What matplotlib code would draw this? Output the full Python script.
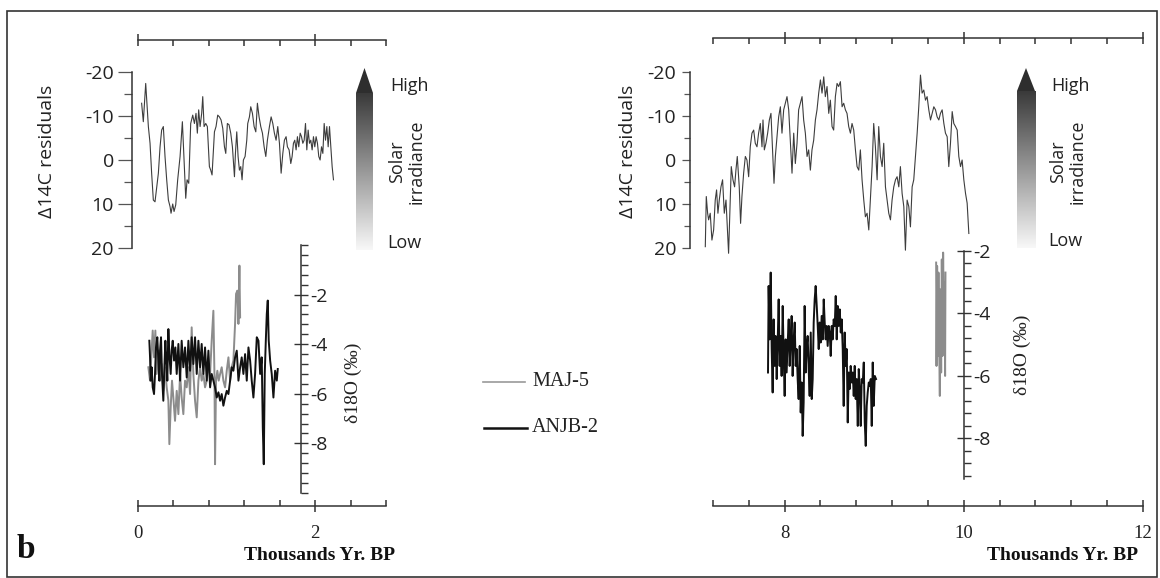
import numpy as np
import matplotlib
matplotlib.use("Agg")
import matplotlib.pyplot as plt
from matplotlib.lines import Line2D
from matplotlib.patches import Polygon, Rectangle
from matplotlib.colors import LinearSegmentedColormap

W, H = 1160, 578
PX = 0.72  # points per pixel at dpi 100
SANS = ['Open Sans', 'DejaVu Sans']
SERIF = ['Liberation Serif', 'DejaVu Serif']
INK = '#333333'

# ---- Delta14C residuals, 0-2.2 kyr BP
c14_left_age = [
    0.041, 0.060, 0.087, 0.117, 0.136, 0.154, 0.173, 0.192, 0.230, 0.249,
    0.267, 0.286, 0.305, 0.324, 0.343, 0.362, 0.373, 0.392, 0.407, 0.426,
    0.448, 0.475, 0.501, 0.520, 0.539, 0.554, 0.573, 0.595, 0.618, 0.637,
    0.655, 0.670, 0.685, 0.701, 0.719, 0.731, 0.746, 0.765, 0.783, 0.806,
    0.821, 0.836, 0.863, 0.881, 0.900, 0.919, 0.938, 0.957, 0.976, 0.991,
    1.009, 1.028, 1.047, 1.066, 1.089, 1.100, 1.115, 1.130, 1.145, 1.160,
    1.175, 1.190, 1.209, 1.228, 1.239, 1.258, 1.273, 1.292, 1.311, 1.330,
    1.348, 1.367, 1.386, 1.405, 1.424, 1.443, 1.461, 1.484, 1.503, 1.522,
    1.540, 1.559, 1.578, 1.597, 1.616, 1.635, 1.653, 1.672, 1.687, 1.706,
    1.725, 1.740, 1.755, 1.770, 1.785, 1.800, 1.815, 1.831, 1.846, 1.861,
    1.876, 1.891, 1.906, 1.921, 1.936, 1.951, 1.966, 1.981, 1.996, 2.011,
    2.026, 2.041, 2.056, 2.072, 2.087, 2.102, 2.117, 2.132, 2.147, 2.162,
    2.177, 2.192, 2.207]
c14_left_val = [
    -12.9, -8.7, -17.4, -7.6, -3.8, 3.0, 9.1, 9.5, 3.0, -3.0,
    -6.8, -7.6, -0.8, 4.5, 9.1, 10.6, 12.1, 10.0, 11.7, 10.2,
    4.5, -0.8, -8.7, 0.0, 8.7, 4.5, 5.3, -8.3, -10.2, -8.3,
    -10.6, -6.1, -11.4, -7.6, -10.6, -14.4, -7.6, -8.3, -7.6, 1.5,
    2.3, 3.4, -6.4, -7.6, -10.2, -9.8, -9.1, -7.2, -3.0, -1.5,
    -8.3, -8.0, -6.1, -3.0, 3.8, -1.5, -6.4, -0.8, 2.3, 1.5,
    4.5, 0.0, -0.8, -4.5, -8.3, -9.8, -12.1, -10.6, -7.6, -6.4,
    -12.9, -9.8, -7.6, -6.1, -3.0, -0.8, -4.5, -7.6, -9.8, -8.3,
    -6.1, -4.5, -7.6, -3.8, 3.0, -1.5, -4.5, -5.3, -3.0, -2.3,
    0.8, -0.8, -3.8, -4.5, -2.3, -5.3, -3.0, -6.1, -5.3, -3.8,
    -4.5, -8.3, -2.3, -6.8, -3.8, -4.5, -2.3, -5.3, -3.0, -5.3,
    -3.8, -0.8, 0.0, -3.0, -1.5, -8.3, -4.5, -7.6, -3.0, -7.6,
    -3.0, 1.5, 4.5]

# ---- Delta14C residuals, 7.1-10.1 kyr BP
c14_right_age = [
    7.114, 7.125, 7.140, 7.151, 7.169, 7.188, 7.207, 7.225, 7.240, 7.255,
    7.270, 7.289, 7.307, 7.326, 7.345, 7.374, 7.393, 7.404, 7.423, 7.441,
    7.456, 7.471, 7.493, 7.508, 7.523, 7.542, 7.561, 7.579, 7.598, 7.616,
    7.635, 7.654, 7.672, 7.691, 7.709, 7.728, 7.747, 7.758, 7.773, 7.791,
    7.810, 7.829, 7.847, 7.866, 7.881, 7.896, 7.914, 7.933, 7.952, 7.970,
    7.989, 8.007, 8.026, 8.045, 8.063, 8.082, 8.101, 8.119, 8.138, 8.156,
    8.175, 8.194, 8.212, 8.231, 8.250, 8.268, 8.287, 8.305, 8.324, 8.343,
    8.361, 8.380, 8.399, 8.417, 8.436, 8.454, 8.473, 8.492, 8.510, 8.529,
    8.547, 8.566, 8.585, 8.603, 8.622, 8.641, 8.659, 8.678, 8.696, 8.715,
    8.734, 8.752, 8.771, 8.790, 8.808, 8.827, 8.845, 8.864, 8.883, 8.901,
    8.920, 8.939, 8.957, 8.976, 8.994, 9.013, 9.032, 9.050, 9.069, 9.088,
    9.106, 9.125, 9.143, 9.162, 9.181, 9.199, 9.218, 9.237, 9.255, 9.274,
    9.292, 9.311, 9.330, 9.348, 9.367, 9.386, 9.404, 9.423, 9.441, 9.460,
    9.479, 9.497, 9.516, 9.534, 9.553, 9.572, 9.590, 9.609, 9.628, 9.646,
    9.665, 9.684, 9.702, 9.721, 9.739, 9.758, 9.777, 9.795, 9.814, 9.832,
    9.851, 9.870, 9.888, 9.907, 9.926, 9.944, 9.963, 9.981, 10.000, 10.019,
    10.037, 10.056]
c14_right_val = [
    19.7, 8.3, 12.1, 13.6, 12.1, 18.2, 15.9, 9.1, 6.8, 12.1,
    9.1, 6.1, 4.5, 12.1, 9.1, 21.2, 9.1, 1.5, 4.5, 6.1,
    2.3, -0.8, 6.1, 14.4, 8.3, 3.0, -0.8, 0.0, 3.8, -3.0,
    -6.1, -6.8, -3.8, -3.0, -6.1, -8.3, -3.0, -9.1, -2.3, -3.8,
    -6.1, -9.1, -10.6, -1.5, 5.3, -0.8, -5.3, -9.8, -12.1, -6.1,
    -11.4, -12.9, -14.4, -11.4, -4.5, 3.0, -6.1, 0.8, -3.8, -11.4,
    -12.9, -14.4, -9.1, -6.1, -0.8, -2.3, 2.3, -2.3, -4.5, -9.1,
    -11.4, -15.2, -18.2, -15.2, -18.9, -14.4, -16.7, -10.6, -13.6, -7.6,
    -6.8, -14.4, -17.4, -16.7, -17.8, -12.1, -12.9, -11.4, -10.6, -7.6,
    -6.1, -8.3, -6.8, -2.3, 1.5, 2.3, -2.3, 4.5, 9.1, 12.9,
    12.1, 15.9, 9.1, 1.5, -8.3, -3.0, 4.5, -7.6, -0.8, 1.5,
    -3.8, 6.1, 9.1, 12.1, 13.6, 9.1, 6.1, 4.5, 3.8, 6.1,
    1.5, 7.6, 10.6, 20.5, 9.1, 10.6, 15.2, 6.1, 4.5, -0.8,
    -6.1, -12.1, -19.3, -15.2, -15.9, -13.6, -14.4, -11.4, -9.1, -10.6,
    -12.1, -11.4, -9.8, -9.1, -10.6, -11.4, -8.3, -6.1, -5.3, 1.5,
    -3.8, -11.0, -8.3, -7.6, -6.8, -0.8, 1.5, 0.0, 4.5, 7.6,
    9.8, 16.7]

# ---- d18O MAJ-5, 0-1.2 kyr BP
maj5_left_age = [
    0.117, 0.136, 0.154, 0.166, 0.181, 0.196, 0.211, 0.230, 0.249, 0.267,
    0.286, 0.305, 0.324, 0.343, 0.354, 0.369, 0.384, 0.399, 0.418, 0.437,
    0.456, 0.475, 0.493, 0.512, 0.531, 0.550, 0.569, 0.588, 0.606, 0.625,
    0.644, 0.663, 0.682, 0.701, 0.719, 0.738, 0.757, 0.776, 0.795, 0.814,
    0.832, 0.851, 0.863, 0.870, 0.881, 0.896, 0.911, 0.927, 0.945, 0.964,
    0.983, 1.002, 1.021, 1.040, 1.058, 1.077, 1.096, 1.107, 1.122, 1.134,
    1.145, 1.153]
maj5_left_val = [
    -4.93, -5.47, -4.26, -3.45, -4.53, -3.45, -5.20, -4.26, -5.47, -4.80,
    -5.88, -4.93, -5.74, -6.28, -8.03, -6.55, -5.47, -6.15, -7.09, -5.88,
    -6.82, -5.20, -6.15, -6.82, -5.47, -5.74, -4.93, -6.01, -3.32, -5.20,
    -6.28, -6.95, -5.47, -4.93, -5.47, -5.20, -5.74, -5.47, -4.93, -5.20,
    -3.86, -2.65, -5.20, -8.84, -5.47, -5.07, -5.47, -5.20, -4.93, -5.47,
    -5.74, -5.07, -4.53, -5.47, -4.93, -4.66, -3.18, -1.97, -1.84, -3.18,
    -0.83, -2.92]

# ---- d18O ANJB-2, 0.1-1.6 kyr BP
anjb_left_age = [
    0.128, 0.136, 0.143, 0.154, 0.166, 0.181, 0.192, 0.203, 0.218, 0.230,
    0.241, 0.249, 0.260, 0.271, 0.286, 0.298, 0.309, 0.320, 0.331, 0.343,
    0.354, 0.369, 0.380, 0.392, 0.407, 0.422, 0.437, 0.456, 0.475, 0.493,
    0.512, 0.531, 0.550, 0.569, 0.588, 0.606, 0.625, 0.644, 0.663, 0.682,
    0.701, 0.719, 0.738, 0.757, 0.776, 0.795, 0.814, 0.832, 0.851, 0.870,
    0.889, 0.908, 0.927, 0.945, 0.964, 0.983, 1.002, 1.021, 1.040, 1.058,
    1.077, 1.096, 1.115, 1.134, 1.153, 1.171, 1.190, 1.209, 1.228, 1.247,
    1.266, 1.284, 1.303, 1.322, 1.341, 1.360, 1.379, 1.397, 1.409, 1.420,
    1.431, 1.443, 1.454, 1.465, 1.476, 1.492, 1.510, 1.529, 1.548, 1.567,
    1.578]
anjb_left_val = [
    -3.86, -4.53, -5.47, -4.93, -5.74, -6.01, -5.20, -4.13, -3.72, -4.66,
    -5.47, -4.26, -3.72, -5.20, -6.28, -4.93, -3.86, -4.66, -5.47, -3.39,
    -4.40, -5.20, -4.26, -3.86, -4.66, -4.13, -5.20, -3.99, -5.47, -3.86,
    -4.93, -4.13, -5.34, -3.86, -5.07, -3.72, -4.80, -3.72, -5.20, -3.86,
    -4.93, -3.99, -5.20, -4.13, -5.47, -4.26, -5.74, -5.20, -5.47, -5.74,
    -6.15, -5.94, -6.28, -6.01, -6.48, -6.15, -5.88, -6.01, -5.47, -4.93,
    -5.07, -4.53, -4.26, -5.47, -4.93, -4.53, -5.20, -4.40, -5.47, -4.13,
    -4.66, -5.47, -6.15, -5.20, -3.72, -3.86, -5.20, -4.53, -7.36, -8.84,
    -5.20, -3.86, -2.78, -2.24, -3.86, -4.66, -5.20, -6.15, -5.07, -5.47,
    -5.00]

# ---- d18O ANJB-2, 7.8-9.0 kyr BP
anjb_right_age = [
    7.814, 7.821, 7.832, 7.844, 7.855, 7.866, 7.877, 7.888, 7.899, 7.911,
    7.922, 7.933, 7.944, 7.955, 7.966, 7.978, 7.989, 8.000, 8.011, 8.022,
    8.034, 8.045, 8.056, 8.067, 8.078, 8.089, 8.101, 8.112, 8.123, 8.134,
    8.145, 8.156, 8.168, 8.179, 8.190, 8.201, 8.212, 8.223, 8.235, 8.246,
    8.257, 8.268, 8.279, 8.291, 8.302, 8.313, 8.324, 8.335, 8.346, 8.358,
    8.369, 8.380, 8.391, 8.402, 8.413, 8.425, 8.436, 8.447, 8.458, 8.469,
    8.480, 8.492, 8.503, 8.514, 8.525, 8.536, 8.547, 8.559, 8.570, 8.581,
    8.592, 8.603, 8.615, 8.626, 8.637, 8.648, 8.659, 8.670, 8.682, 8.693,
    8.704, 8.715, 8.726, 8.737, 8.749, 8.760, 8.771, 8.782, 8.793, 8.804,
    8.816, 8.827, 8.838, 8.849, 8.860, 8.872, 8.883, 8.894, 8.905, 8.916,
    8.927, 8.939, 8.950, 8.961, 8.972, 8.983, 8.994, 9.006, 9.020]
anjb_right_val = [
    -5.89, -3.12, -4.83, -2.69, -5.14, -6.53, -4.19, -5.68, -4.72, -6.10,
    -4.93, -3.55, -5.68, -4.72, -6.00, -3.76, -5.36, -6.64, -4.83, -5.89,
    -4.93, -4.19, -5.68, -4.83, -4.08, -6.00, -4.83, -4.29, -5.68, -5.14,
    -6.10, -6.74, -5.04, -7.17, -6.21, -7.92, -6.85, -3.76, -5.89, -5.04,
    -4.72, -5.78, -6.64, -4.61, -6.74, -6.10, -4.29, -3.55, -3.12, -3.76,
    -4.40, -5.14, -4.29, -4.93, -4.08, -4.83, -3.55, -4.29, -4.83, -4.40,
    -5.04, -4.40, -4.61, -5.36, -4.40, -4.83, -4.19, -4.40, -3.44, -4.83,
    -3.76, -4.40, -3.87, -4.61, -4.19, -5.14, -6.96, -4.61, -5.68, -5.14,
    -7.49, -5.89, -6.42, -5.68, -6.21, -5.89, -6.64, -5.68, -6.74, -6.10,
    -7.60, -5.78, -6.42, -7.60, -6.10, -6.21, -5.57, -7.49, -8.24, -6.96,
    -6.53, -6.21, -6.32, -6.10, -7.60, -5.57, -6.96, -6.00, -6.10]

# ---- d18O MAJ-5, 9.7-9.8 kyr BP
maj5_right_age = [9.691, 9.695, 9.702, 9.709, 9.717, 9.724, 9.732, 9.739,
                  9.747, 9.754, 9.762, 9.769, 9.777, 9.784, 9.791, 9.795]
maj5_right_val = [-2.37, -5.68, -2.48, -5.36, -2.69, -4.83, -6.64, -3.23,
                  -5.89, -2.27, -5.36, -2.05, -4.29, -3.01, -6.00, -2.69]

c14_ticks = [-20, -10, 0, 10, 20]
c14_minor = [-15, -5, 5, 15]
d18_ticks = [-8, -6, -4, -2]
left_maj = [0, 2]
left_min = [0.4, 0.8, 1.2, 1.6, 2.4, 2.8]
right_maj = [8, 10, 12]
right_min = [7.2, 7.6, 8.4, 8.8, 9.2, 9.6, 10.4, 10.8, 11.2, 11.6]

fig = plt.figure(figsize=(W / 100, H / 100), dpi=100)


def box(x0, y0, x1, y1):
    return [x0 / W, 1 - y1 / H, (x1 - x0) / W, (y1 - y0) / H]


def fx(x):
    return x / W


def fy(y):
    return 1 - y / H


def c14_axes(rect, xlim, xmaj, xmin, left_out, top_out, maj_len, min_len, pad):
    ax = fig.add_axes(rect)
    ax.patch.set_visible(False)
    ax.set_xlim(*xlim)
    ax.set_ylim(20, -20)
    for s in ('right', 'bottom'):
        ax.spines[s].set_visible(False)
    ax.spines['left'].set_position(('outward', left_out * PX))
    ax.spines['top'].set_position(('outward', top_out * PX))
    for s in ('left', 'top'):
        ax.spines[s].set_linewidth(1.1)
        ax.spines[s].set_color(INK)
    ax.xaxis.set_ticks_position('top')
    ax.set_xticks(xmaj)
    ax.set_xticks(xmin, minor=True)
    ax.tick_params(axis='x', which='major', direction='inout', length=9,
                   width=1.1, color=INK, labeltop=False, labelbottom=False)
    ax.tick_params(axis='x', which='minor', direction='in', length=4.5,
                   width=1.1, color=INK, labeltop=False)
    ax.yaxis.set_ticks_position('left')
    ax.set_yticks(c14_ticks)
    ax.set_yticks(c14_minor, minor=True)
    ax.set_yticklabels([str(v) for v in c14_ticks], fontfamily=SANS,
                       fontsize=14, color='#222222')
    ax.tick_params(axis='y', which='major', direction='out', length=maj_len,
                   width=0.9, color='#555555', pad=pad)
    ax.tick_params(axis='y', which='minor', direction='out', length=min_len,
                   width=0.9, color='#555555')
    return ax


def d18_axes(rect, xlim, ylim, xmaj, xmin, ymin, spine_x, bot_out):
    ax = fig.add_axes(rect)
    ax.patch.set_visible(False)
    ax.set_xlim(*xlim)
    ax.set_ylim(*ylim)
    for s in ('left', 'top'):
        ax.spines[s].set_visible(False)
    ax.spines['right'].set_position(('data', spine_x))
    ax.spines['bottom'].set_position(('outward', bot_out * PX))
    for s in ('right', 'bottom'):
        ax.spines[s].set_linewidth(1.1)
        ax.spines[s].set_color(INK)
    ax.yaxis.tick_right()
    ax.set_yticks(d18_ticks)
    ax.set_yticks(ymin, minor=True)
    ax.set_yticklabels([str(v) for v in d18_ticks], fontfamily=SANS,
                       fontsize=14, color='#222222')
    ax.tick_params(axis='y', which='major', direction='inout', length=10,
                   width=1.0, color=INK, pad=2)
    ax.tick_params(axis='y', which='minor', direction='out', length=5,
                   width=1.0, color=INK)
    ax.xaxis.set_ticks_position('bottom')
    ax.set_xticks(xmaj)
    ax.set_xticks(xmin, minor=True)
    ax.set_xticklabels([f'{v:g}' for v in xmaj], fontfamily=SERIF,
                       fontsize=13.5, color='#222222')
    ax.tick_params(axis='x', which='major', direction='inout', length=9,
                   width=1.1, color=INK, pad=9)
    ax.tick_params(axis='x', which='minor', direction='in', length=4.5,
                   width=1.1, color=INK)
    return ax


# left panel
axL = c14_axes(box(138, 72, 386, 248), (0, 2.8), left_maj, left_min,
               6, 32, 10, 6, 3)
axL.plot(c14_left_age, c14_left_val, color='#3d3d3d', lw=0.8, clip_on=False)

dL = d18_axes(box(138, 245, 386, 493), (0, 2.8), (-10, 0), left_maj, left_min,
              np.arange(-10, 0.01, 0.4), 1.84, 13)
dL.plot(maj5_left_age, maj5_left_val, color='#8c8c8c', lw=1.4, clip_on=False)
dL.plot(anjb_left_age, anjb_left_val, color='#111111', lw=1.4, clip_on=False)

# right panel
axR = c14_axes(box(713, 72, 1143, 248), (7.2, 12.0001), right_maj, right_min,
               23, 34, 6, 4, 4)
axR.plot(c14_right_age, c14_right_val, color='#3d3d3d', lw=0.8, clip_on=False)

dR = d18_axes(box(713, 251, 1143, 479), (7.2, 12.0001), (-9.3, -2), right_maj,
              right_min, np.arange(-9.2, -1.9, 0.4), 10.0, 27)
dR.plot(anjb_right_age, anjb_right_val, color='#111111', lw=1.4, clip_on=False)
dR.plot(maj5_right_age, maj5_right_val, color='#8c8c8c', lw=1.4, clip_on=False)

# axis titles
for x in (47, 628):
    fig.text(fx(x), fy(151), 'Δ14C residuals', rotation=90, ha='center',
             va='center', family=SANS, fontsize=14, color='#222222')
for x, y in ((353, 383), (1022, 355)):
    fig.text(fx(x), fy(y), 'δ18O (‰)', rotation=90, ha='center', va='center',
             family=SERIF, fontsize=14, color='#222222')
for x in (395, 1138):
    fig.text(fx(x), fy(555), 'Thousands Yr. BP', ha='right', va='center',
             family=SERIF, fontsize=14, fontweight='bold', color='#111111')

# solar irradiance arrows
grey_ramp = LinearSegmentedColormap.from_list('ramp', ['#f8f8f8', '#3a3a3a'])


def solar_bar(x0, x1, ytip, ybase, ybot, tx):
    ax = fig.add_axes(box(x0, ytip, x1, ybot))
    ax.set_axis_off()
    ax.set_xlim(0, 1)
    ax.set_ylim(0, 1)
    fb = (ybot - ybase) / (ybot - ytip)
    ax.imshow(np.linspace(0, 1, 256).reshape(-1, 1), cmap=grey_ramp,
              origin='lower', extent=[0, 1, 0, fb], aspect='auto')
    ax.add_patch(Polygon([(0, fb), (1, fb), (0.5, 1)], closed=True,
                         fc='#2e2e2e', ec='none'))
    fig.text(fx(tx), fy(ytip + 18), 'High', ha='left', va='center',
             family=SANS, fontsize=13, color='#222222')
    fig.text(fx(tx - 3), fy(ybot - 7), 'Low', ha='left', va='center',
             family=SANS, fontsize=13, color='#222222')
    fig.text(fx(tx + 17), fy(162), 'Solar\nirradiance', rotation=90,
             ha='center', va='center', multialignment='center',
             family=SANS, fontsize=13, color='#222222', linespacing=1.1)


solar_bar(356, 373, 68, 93, 250, 390)
solar_bar(1017, 1035, 68, 91, 248, 1051)

# legend
fig.add_artist(Line2D([fx(483), fx(525)], [fy(382), fy(382)],
                      color='#999999', lw=1.2))
fig.add_artist(Line2D([fx(484), fx(527)], [fy(428), fy(428)],
                      color='#111111', lw=1.8))
fig.text(fx(532), fy(382), 'MAJ-5', ha='left', va='center', family=SERIF,
         fontsize=14.5, color='#222222')
fig.text(fx(532), fy(428), 'ANJB-2', ha='left', va='center', family=SERIF,
         fontsize=14.5, color='#222222')

# panel letter and frame
fig.text(fx(17), fy(558), 'b', ha='left', va='baseline', family=SERIF,
         fontsize=24, fontweight='bold', color='#111111')
fig.add_artist(Rectangle((fx(7), fy(577)), fx(1157) - fx(7), fy(11) - fy(577),
                         fill=False, lw=1.2, ec=INK))

fig.savefig('out.png', dpi=100)
